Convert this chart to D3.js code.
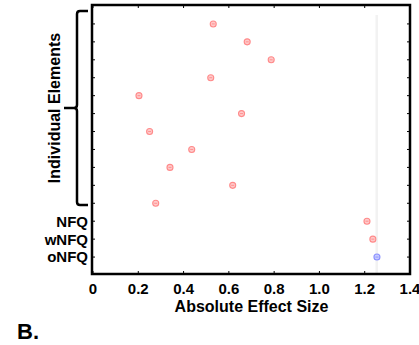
<!DOCTYPE html>
<html>
<head>
<meta charset="utf-8">
<script src="https://cdn.jsdelivr.net/npm/d3@7"></script>
<style>
  body { margin: 0; background: #fff; }
  text { font-family: Arial, "Liberation Sans", sans-serif; font-weight: bold; fill: #000; }
</style>
</head>
<body>
<div id="chart"></div>
<script>
// rows from bottom (1) to top (14)
const rowLabels = ['oNFQ', 'wNFQ', 'NFQ', '', '', '', '', '', '', '', '', '', '', ''];
const effectSizes = [1.254, 1.236, 1.210, 0.277, 0.617, 0.340, 0.436, 0.250, 0.656, 0.203, 0.520, 0.787, 0.681, 0.531];
const pointGroup = ['o', 'w', 'w', 'w', 'w', 'w', 'w', 'w', 'w', 'w', 'w', 'w', 'w', 'w'];
const xTicks = [0, 0.2, 0.4, 0.6, 0.8, 1.0, 1.2, 1.4];
const refLine = 1.253;

const width = 419, height = 345;
const margin = { top: 5, right: 9, bottom: 71, left: 92 };

const svg = d3.select('#chart')
  .append('svg')
  .attr('width', width)
  .attr('height', height);

const x = d3.scaleLinear()
  .domain([0, 1.4])
  .range([margin.left + 1, width - margin.right]);

const y = d3.scaleLinear()
  .domain([0, 15])
  .range([height - margin.bottom + 1, margin.top + 1]);

const rows = d3.range(1, rowLabels.length + 1);

// faint reference line
svg.append('line')
  .attr('x1', x(refLine)).attr('x2', x(refLine))
  .attr('y1', 15).attr('y2', height - margin.bottom)
  .attr('stroke', '#f2f2f2')
  .attr('stroke-width', 2.5);

// ticks (inward on all four sides)
const tl = 3;
const yBot = height - margin.bottom, yTop = margin.top;
svg.append('g')
  .selectAll('line')
  .data(xTicks)
  .join('line')
    .attr('x1', d => x(d)).attr('x2', d => x(d))
    .attr('y1', yBot).attr('y2', yBot - tl)
    .attr('stroke', '#000');
svg.append('g')
  .selectAll('line')
  .data(xTicks)
  .join('line')
    .attr('x1', d => x(d)).attr('x2', d => x(d))
    .attr('y1', yTop).attr('y2', yTop + tl)
    .attr('stroke', '#000');
svg.append('g')
  .selectAll('line')
  .data(rows)
  .join('line')
    .attr('x1', margin.left).attr('x2', margin.left + tl)
    .attr('y1', d => y(d)).attr('y2', d => y(d))
    .attr('stroke', '#000');
svg.append('g')
  .selectAll('line')
  .data(rows)
  .join('line')
    .attr('x1', x(1.4)).attr('x2', x(1.4) - tl)
    .attr('y1', d => y(d)).attr('y2', d => y(d))
    .attr('stroke', '#000');

// frame
svg.append('rect')
  .attr('x', margin.left)
  .attr('y', yTop)
  .attr('width', x(1.4) - margin.left)
  .attr('height', yBot - yTop)
  .attr('fill', 'none')
  .attr('stroke', '#000')
  .attr('stroke-width', 2.5);

// points
const pts = svg.append('g')
  .selectAll('g')
  .data(effectSizes.map((v, i) => ({ v, row: i + 1, g: pointGroup[i] })))
  .join('g')
    .attr('transform', d => `translate(${x(d.v)},${y(d.row)})`);
pts.append('circle')
  .attr('r', 3)
  .attr('fill', d => d.g === 'o' ? '#c8ccff' : '#ffcaca')
  .attr('stroke', d => d.g === 'o' ? '#8a90ff' : '#ff8a8a')
  .attr('stroke-width', 1.1);
pts.append('line')
  .attr('x1', -1.5).attr('x2', 1.5)
  .attr('stroke', d => d.g === 'o' ? '#8a90ff' : '#ff8a8a')
  .attr('stroke-width', 0.9);

// tick labels
svg.append('g')
  .selectAll('text')
  .data(xTicks)
  .join('text')
    .attr('x', d => x(d))
    .attr('y', 294)
    .attr('text-anchor', 'middle')
    .attr('font-size', 15)
    .text(d => d === 0 ? '0' : d.toFixed(1));

svg.append('g')
  .selectAll('text')
  .data(rows.filter(r => rowLabels[r - 1]))
  .join('text')
    .attr('x', 88)
    .attr('y', d => y(d))
    .attr('dy', '0.36em')
    .attr('text-anchor', 'end')
    .attr('font-size', 15)
    .text(d => rowLabels[d - 1]);

// bracket for individual elements
const bx = 77, bTop = 11, bBot = 205, bMid = 108;
svg.append('path')
  .attr('d', `M88,${bTop} H${bx + 3} Q${bx},${bTop} ${bx},${bTop + 3} V${bMid - 3} Q${bx},${bMid} ${bx - 3},${bMid} H64
              M${bx - 3},${bMid} Q${bx},${bMid} ${bx},${bMid + 3} V${bBot - 3} Q${bx},${bBot} ${bx + 3},${bBot} H88`)
  .attr('fill', 'none')
  .attr('stroke', '#000')
  .attr('stroke-width', 2.5);

svg.append('text')
  .attr('transform', `translate(60,${bMid}) rotate(-90)`)
  .attr('text-anchor', 'middle')
  .attr('font-size', 16)
  .text('Individual Elements');

svg.append('text')
  .attr('x', (x(0) + x(1.4)) / 2)
  .attr('y', 312)
  .attr('text-anchor', 'middle')
  .attr('font-size', 16)
  .text('Absolute Effect Size');

svg.append('text')
  .attr('x', 17)
  .attr('y', 339)
  .attr('font-size', 22)
  .text('B.');
</script>
</body>
</html>
